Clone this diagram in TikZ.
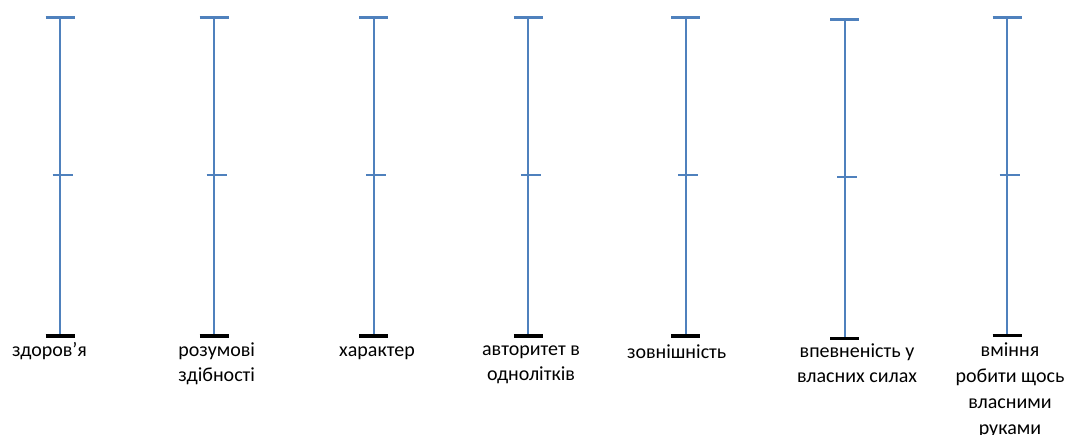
\documentclass[tikz,border=0pt]{standalone}
\usepackage{fontspec}
\setmainfont{Carlito}
\definecolor{axisblue}{RGB}{79,129,189}
\begin{document}
\begin{tikzpicture}[x=1pt,y=-1pt,
  axisline/.style={draw=axisblue,line width=2pt},
  topcap/.style={draw=axisblue,line width=3pt},
  midtick/.style={draw=axisblue,line width=1.8pt},
  botcap/.style={draw=black,line width=3.2pt},
  lbl/.style={font=\fontsize{20}{25}\selectfont,align=center,inner sep=0pt,anchor=base}]
\useasboundingbox (0,0) rectangle (1067,434);
\foreach \i/\x/\t/\m/\b in {1/60/17.5/175/336, 2/214/17.5/175/336, 3/373.7/17.5/175/336, 4/528.3/17.5/175/336, 5/685.7/17.5/175/336, 6/844.7/19/177/338.3, 7/1007/17.5/175.3/335.7}{
  \coordinate (t\i) at (\x,\t);
  \coordinate (m\i) at (\x,\m);
  \coordinate (b\i) at (\x,\b);
  \draw[axisline] (t\i) -- (b\i);
  \draw[topcap] ([xshift=-14.5pt]t\i) -- ([xshift=14.5pt]t\i);
  \draw[midtick] ([xshift=-7.5pt]m\i) -- ([xshift=12.5pt]m\i);
  \draw[botcap] ([xshift=-14.5pt]b\i) -- ([xshift=14.5pt]b\i);
}
\node[lbl] (l1) at (49.5,356) {здоров’я};
\node[lbl] (l2) at (216.7,381) {розумові\\здібності};
\node[lbl] (l3) at (377,356) {характер};
\node[lbl] (l4) at (531,380) {авторитет в\\однолітків};
\node[lbl] (l5) at (676.7,358) {зовнішність};
\node[lbl] (l6) at (857,382) {впевненість у\\власних силах};
\node[lbl,font=\fontsize{20}{26}\selectfont] (l7) at (1010,434.7) {вміння\\робити щось\\власними\\руками};
\end{tikzpicture}
\end{document}
